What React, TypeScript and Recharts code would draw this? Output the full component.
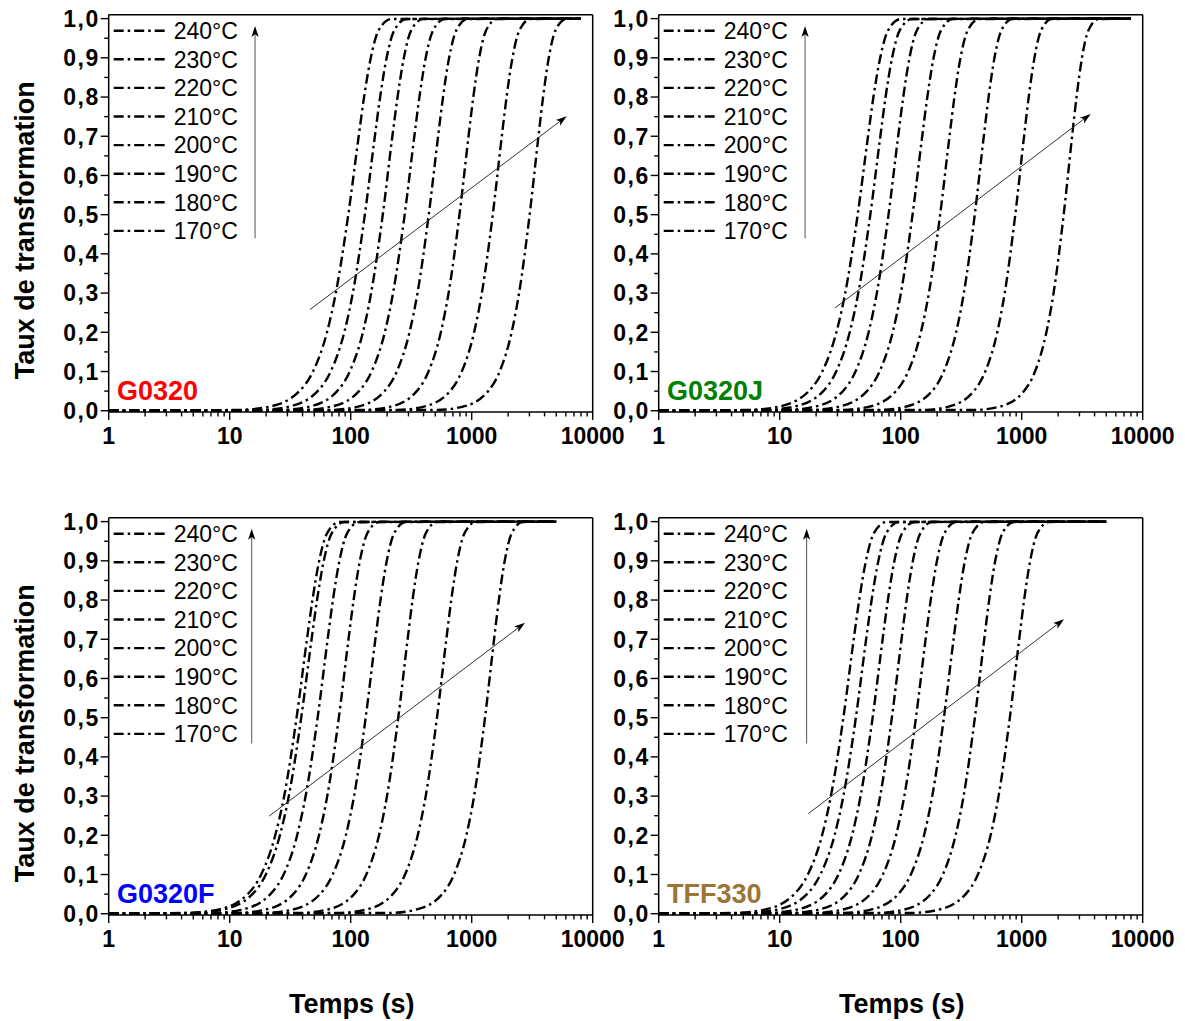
import React from 'react';
import { LineChart, Line, XAxis, YAxis, ReferenceLine } from 'recharts';

const FONT = '"Liberation Sans", Arial, Helvetica, sans-serif';

// Legend labels (curve order, 240°C is the leftmost curve)
const temperatures = ['240°C', '230°C', '220°C', '210°C', '200°C', '190°C', '180°C', '170°C'];

// Transformation fraction level of each sampled point along a curve
const fractionLevels = [0, 0.002, 0.01, 0.05, 0.1, 0.2, 0.3, 0.5, 0.7, 0.8, 0.9, 0.97, 0.999, 1];

// Times (s) read for each curve at the fraction levels above
const g0320Times = [
  [1, 11.8, 21.0, 37.7, 48.8, 63.7, 75.3, 95.5, 116.4, 129, 146.6, 170, 217, 8000],
  [1, 17.4, 30.4, 53.3, 68.4, 88.5, 104.1, 130.9, 158.4, 175.1, 198.1, 229, 289, 8000],
  [1, 26.2, 44.9, 77.3, 98.2, 126.2, 147.5, 184.1, 221, 244, 275, 316, 396, 8000],
  [1, 39.8, 68.1, 117.2, 148.9, 191.4, 223.8, 279.3, 335.7, 369.8, 416.7, 479.4, 600.9, 8000],
  [1, 67.0, 112.7, 190.5, 240.4, 306.2, 356.4, 441.6, 527.7, 579.4, 650.5, 744.9, 927.1, 8000],
  [1, 127.6, 210.9, 351.6, 439.5, 555.9, 643.9, 792.5, 941.7, 1031, 1153, 1315, 1626, 8000],
  [1, 240.4, 397.2, 662.2, 827.9, 1047, 1213, 1493, 1774, 1942, 2172, 2477, 3062, 8000],
  [1, 512.9, 835.6, 1368, 1702, 2138, 2464, 3013, 3562, 3890, 4335, 4923, 6048, 8000],
];

const g0320JTimes = [
  [1, 5.46, 9.70, 17.4, 22.5, 29.4, 34.8, 44.1, 53.7, 59.5, 67.7, 78.6, 100.1, 8000],
  [1, 7.46, 13.0, 22.9, 29.3, 37.9, 44.6, 56.1, 67.9, 75.0, 84.9, 98.1, 124, 8000],
  [1, 11.3, 19.3, 33.3, 42.3, 54.3, 63.5, 79.3, 95.3, 105, 118.2, 136, 170.5, 8000],
  [1, 17.9, 30.5, 52.6, 66.8, 85.9, 100.4, 125.3, 150.6, 166, 187, 215.1, 269.7, 8000],
  [1, 32.1, 54.1, 91.4, 115.3, 146.9, 171, 211.8, 253.1, 278, 312, 357.4, 444.7, 8000],
  [1, 65.9, 108.9, 181.6, 227, 287.1, 332.5, 409.3, 486.3, 532.5, 595.5, 679.2, 839.5, 8000],
  [1, 150.7, 245.5, 401.8, 500, 628.1, 723.7, 885.1, 1046, 1143, 1274, 1446, 1777, 8000],
  [1, 408.3, 651.6, 1045, 1288, 1600, 1834, 2223, 2609, 2839, 3148, 3556, 4329, 8000],
];

const g0320FTimes = [
  [1, 4.43, 7.87, 14.1, 18.2, 23.8, 28.2, 35.7, 43.5, 48.3, 54.9, 63.7, 81.2, 5000],
  [1, 4.83, 8.59, 15.4, 19.9, 26.0, 30.8, 39.0, 47.5, 52.7, 59.9, 69.6, 88.6, 5000],
  [1, 7.10, 12.4, 21.7, 27.9, 36.1, 42.4, 53.3, 64.5, 71.3, 80.7, 93.3, 117.8, 5000],
  [1, 11.4, 19.5, 33.5, 42.6, 54.7, 64.0, 79.8, 95.9, 105.7, 119.1, 137, 171.7, 5000],
  [1, 19.0, 32.4, 55.8, 71.0, 91.2, 106.6, 133, 159.9, 176.2, 198.6, 228.4, 286.3, 5000],
  [1, 37.5, 63.1, 106.7, 134.6, 171.4, 199.5, 247.2, 295.4, 324.3, 364.1, 417, 518.9, 5000],
  [1, 78.3, 131.8, 222.8, 281.2, 358.1, 416.8, 516.4, 617.1, 677.6, 760.7, 871, 1084, 5000],
  [1, 207.5, 342.8, 571.5, 714.5, 903.6, 1047, 1288, 1531, 1676, 1875, 2138, 2642, 5000],
];

const tff330Times = [
  [1, 4.16, 7.40, 13.2, 17.1, 22.4, 26.5, 33.6, 40.9, 45.4, 51.6, 59.9, 76.3, 5000],
  [1, 5.27, 9.38, 16.8, 21.7, 28.4, 33.6, 42.6, 51.8, 57.5, 65.4, 75.9, 96.7, 5000],
  [1, 7.80, 13.6, 23.9, 30.6, 39.6, 46.6, 58.6, 70.9, 78.4, 88.7, 102.5, 129.5, 5000],
  [1, 12.1, 20.6, 35.5, 45.1, 57.9, 67.7, 84.5, 101.6, 111.9, 126.1, 145.1, 181.9, 5000],
  [1, 19.1, 32.6, 56.1, 71.3, 91.6, 107.1, 133.7, 160.6, 177, 199.4, 229.5, 287.6, 5000],
  [1, 32.4, 55.5, 95.5, 121.3, 156, 182.3, 227.5, 273.5, 301.3, 339.5, 390.6, 489.7, 5000],
  [1, 62.2, 104.7, 177, 223.4, 284.4, 331.1, 410.2, 490.2, 538.3, 604.2, 692, 861, 5000],
  [1, 121.1, 203.7, 344.3, 434.5, 553.4, 644.1, 798, 953.7, 1047, 1175, 1346, 1675, 5000],
];

// Annotation arrows in data coordinates (time s, fraction)
const g0320Trend = [{ x: 46.1, y: 0.258 }, { x: 6100, y: 0.751 }];
const g0320JTrend = [{ x: 28.6, y: 0.262 }, { x: 3716, y: 0.757 }];
const g0320FTrend = [{ x: 21.2, y: 0.249 }, { x: 2755, y: 0.742 }];
const tff330Trend = [{ x: 17.2, y: 0.255 }, { x: 2237, y: 0.751 }];

const g0320TempArrow = [{ x: 16.2, y: 0.44 }, { x: 16.2, y: 0.981 }];
const g0320JTempArrow = [{ x: 16.2, y: 0.44 }, { x: 16.2, y: 0.981 }];
const g0320FTempArrow = [{ x: 15.2, y: 0.434 }, { x: 15.2, y: 0.982 }];
const tff330TempArrow = [{ x: 16.7, y: 0.434 }, { x: 16.7, y: 0.982 }];

// Axis ticks
const majorTimeTicks = [1, 10, 100, 1000, 10000];
const timeTicks = [
  1, 2, 3, 4, 5, 6, 7, 8, 9,
  10, 20, 30, 40, 50, 60, 70, 80, 90,
  100, 200, 300, 400, 500, 600, 700, 800, 900,
  1000, 2000, 3000, 4000, 5000, 6000, 7000, 8000, 9000,
  10000,
];
const fractionTicks = [
  0, 0.05, 0.1, 0.15, 0.2, 0.25, 0.3, 0.35, 0.4, 0.45, 0.5,
  0.55, 0.6, 0.65, 0.7, 0.75, 0.8, 0.85, 0.9, 0.95, 1,
];

const panels = [
  { name: 'G0320', color: '#ff0000', times: g0320Times, trend: g0320Trend, tempArrow: g0320TempArrow, left: 0, top: 0, yTitle: true, xTitle: false },
  { name: 'G0320J', color: '#008000', times: g0320JTimes, trend: g0320JTrend, tempArrow: g0320JTempArrow, left: 550, top: 0, yTitle: false, xTitle: false },
  { name: 'G0320F', color: '#0000ff', times: g0320FTimes, trend: g0320FTrend, tempArrow: g0320FTempArrow, left: 0, top: 503, yTitle: true, xTitle: true },
  { name: 'TFF330', color: '#9c7536', times: tff330Times, trend: tff330Trend, tempArrow: tff330TempArrow, left: 550, top: 503, yTitle: false, xTitle: true },
];

const CHART_W = 635;
const CHART_H = 470;
const PLOT_LEFT = 108.7;
const PLOT_TOP = 14.7;
const PLOT_RIGHT = 592.7;
const PLOT_BOTTOM = 411.9;
const DASH = '10 4 2.5 4';

const renderXTick = (props: any) => {
  const { x, y, payload } = props;
  const v = payload.value;
  const major = majorTimeTicks.includes(v);
  return (
    <g>
      <line x1={x} x2={x} y1={y} y2={y + (major ? 8 : 4.5)} stroke="#000" strokeWidth={1.4} />
      {major && (
        <text x={x} y={y + 32.5} textAnchor="middle" fontFamily={FONT} fontWeight="bold" fontSize={23} fill="#000">
          {v}
        </text>
      )}
    </g>
  );
};

const renderYTick = (props: any) => {
  const { x, y, payload } = props;
  const v = payload.value;
  const major = Math.round(v * 20) % 2 === 0;
  return (
    <g>
      <line x1={x - (major ? 8 : 4.5)} x2={x} y1={y} y2={y} stroke="#000" strokeWidth={1.4} />
      {major && (
        <text x={x - 9} y={y + 8.3} textAnchor="end" fontFamily={FONT} fontWeight="bold" fontSize={23} letterSpacing={1.5} fill="#000">
          {v.toFixed(1).replace('.', ',')}
        </text>
      )}
    </g>
  );
};

const arrowShape = (color: string) => (props: any) => {
  const { x1, y1, x2, y2 } = props;
  const ang = Math.atan2(y2 - y1, x2 - x1);
  const L = 11;
  const W = 3.6;
  const bx = x2 - L * Math.cos(ang);
  const by = y2 - L * Math.sin(ang);
  const px = -Math.sin(ang) * W;
  const py = Math.cos(ang) * W;
  const nx = x2 - L * 0.75 * Math.cos(ang);
  const ny = y2 - L * 0.75 * Math.sin(ang);
  return (
    <g>
      <line x1={x1} y1={y1} x2={nx} y2={ny} stroke={color} strokeWidth={1} />
      <polygon points={`${x2},${y2} ${bx + px},${by + py} ${nx},${ny} ${bx - px},${by - py}`} fill="#000" />
    </g>
  );
};

function Panel({ p }: { p: any }) {
  const series = p.times.map((curve: number[]) => curve.map((t, i) => ({ t, f: fractionLevels[i] })));
  return (
    <div style={{ position: 'absolute', left: p.left, top: p.top, width: CHART_W, height: CHART_H }}>
      <LineChart
        width={CHART_W}
        height={CHART_H}
        margin={{ top: PLOT_TOP, right: CHART_W - PLOT_RIGHT, bottom: CHART_H - PLOT_BOTTOM - 40, left: PLOT_LEFT - 60 }}
      >
        <XAxis
          type="number"
          dataKey="t"
          scale="log"
          domain={[1, 10000]}
          allowDataOverflow
          ticks={timeTicks}
          interval={0}
          tickLine={false}
          tickSize={0}
          tickMargin={0}
          height={40}
          axisLine={{ stroke: '#000', strokeWidth: 1.5 }}
          tick={renderXTick}
        />
        <YAxis
          type="number"
          domain={[-0.003, 1.01]}
          allowDataOverflow
          ticks={fractionTicks}
          interval={0}
          tickLine={false}
          tickSize={0}
          tickMargin={0}
          width={60}
          axisLine={{ stroke: '#000', strokeWidth: 1.5 }}
          tick={renderYTick}
        />
        <ReferenceLine y={1.01} stroke="#000" strokeWidth={1.5} ifOverflow="visible" />
        <ReferenceLine x={10000} stroke="#000" strokeWidth={1.5} ifOverflow="visible" />
        {series.map((d: any[], i: number) => (
          <Line
            key={temperatures[i]}
            data={d}
            dataKey="f"
            name={temperatures[i]}
            type="monotone"
            stroke="#000"
            strokeWidth={2.4}
            strokeDasharray={DASH}
            dot={false}
            activeDot={false}
            isAnimationActive={false}
          />
        ))}
        <ReferenceLine segment={p.trend} shape={arrowShape('#333')} ifOverflow="visible" />
        <ReferenceLine segment={p.tempArrow} shape={arrowShape('#555')} ifOverflow="visible" />
      </LineChart>
    </div>
  );
}

function Overlay() {
  return (
    <svg
      width={1185}
      height={1021}
      style={{ position: 'absolute', left: 0, top: 0, pointerEvents: 'none' }}
    >
      {panels.map((p) => {
        const pl = p.left + PLOT_LEFT;
        const pt = p.top + PLOT_TOP;
        return (
          <g key={p.name}>
            {temperatures.map((lab, i) => {
              const y = pt + 16 + i * 28.6;
              return (
                <g key={lab}>
                  <line x1={pl + 5} x2={pl + 59} y1={y} y2={y} stroke="#000" strokeWidth={2.4} strokeDasharray={DASH} />
                  <text x={pl + 65} y={y + 8.2} fontSize={23} fontFamily={FONT} fill="#000">
                    {lab}
                  </text>
                </g>
              );
            })}
            <text x={pl + 8.3} y={pt + 385} fontSize={27} fontWeight="bold" fontFamily={FONT} fill={p.color}>
              {p.name}
            </text>
            {p.yTitle && (
              <text
                x={25.5}
                y={pt + 215.5}
                transform={`rotate(-90, 25.5, ${pt + 215.5})`}
                textAnchor="middle"
                dominantBaseline="central"
                fontSize={27}
                fontWeight="bold"
                fontFamily={FONT}
                fill="#000"
              >
                Taux de transformation
              </text>
            )}
            {p.xTitle && (
              <text x={pl + 243} y={pt + 495} textAnchor="middle" fontSize={27} fontWeight="bold" fontFamily={FONT} fill="#000">
                Temps (s)
              </text>
            )}
          </g>
        );
      })}
    </svg>
  );
}

export default function App() {
  return (
    <div style={{ position: 'absolute', left: 0, top: 0, width: 1185, height: 1021, background: '#fff' }}>
      {panels.map((p) => (
        <Panel key={p.name} p={p} />
      ))}
      <Overlay />
    </div>
  );
}
